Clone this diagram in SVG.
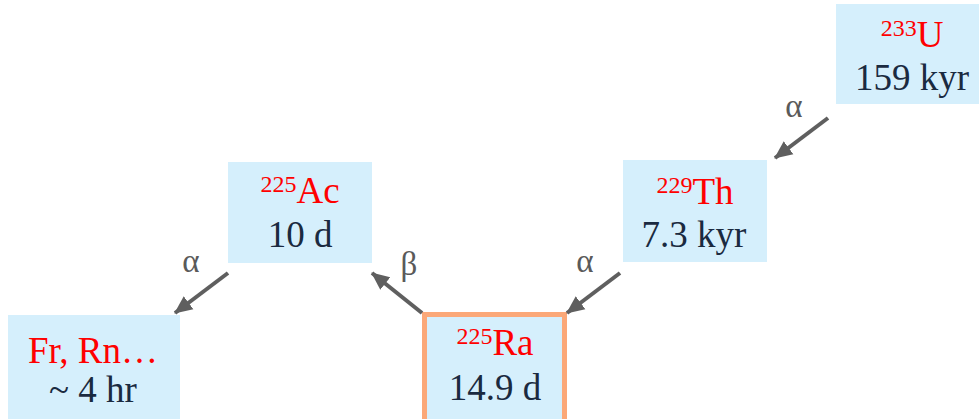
<svg xmlns="http://www.w3.org/2000/svg" width="979" height="419" viewBox="0 0 979 419">
<defs>
<style>
.box{fill:#d5effc}
.hl{fill:#d5effc;stroke:#fba878;stroke-width:5}
.iso{font-size:37px;fill:#ff0000;text-anchor:middle}
.sup{font-size:24px}
.hl2{font-size:37px;fill:#1a2a40;text-anchor:middle}
.lbl{font-size:33px;fill:#5a5a5a;text-anchor:middle}
.arr{stroke:#5f5f5f;stroke-width:4;fill:none;marker-end:url(#ah)}
</style>
<marker id="ah" markerUnits="userSpaceOnUse" markerWidth="20" markerHeight="18" refX="17" refY="8" orient="auto" viewBox="0 0 20 16">
<path d="M0,0 L18,8 L0,16 Z" fill="#5f5f5f"/>
</marker>
</defs>
<g font-family="Liberation Serif, DejaVu Serif, serif">
<g id="n-u233">
<rect class="box" x="836" y="4" width="150" height="100"/>
<text class="iso" x="912" y="47"><tspan class="sup" dy="-11">233</tspan><tspan dy="11">U</tspan></text>
<text class="hl2" x="912" y="90">159 kyr</text>
</g>
<g id="n-th229">
<rect class="box" x="623" y="160" width="144" height="102"/>
<text class="iso" x="695" y="204"><tspan class="sup" dy="-11">229</tspan><tspan dy="11">Th</tspan></text>
<text class="hl2" x="694" y="247">7.3 kyr</text>
</g>
<g id="n-ra225">
<rect class="hl" x="424.5" y="314.5" width="140" height="110"/>
<text class="iso" x="495" y="355"><tspan class="sup" dy="-11">225</tspan><tspan dy="11">Ra</tspan></text>
<text class="hl2" x="495" y="400">14.9 d</text>
</g>
<g id="n-ac225">
<rect class="box" x="228" y="162" width="144" height="101"/>
<text class="iso" x="300" y="203"><tspan class="sup" dy="-11">225</tspan><tspan dy="11">Ac</tspan></text>
<text class="hl2" x="300" y="247">10 d</text>
</g>
<g id="n-fr">
<rect class="box" x="8" y="315" width="172" height="110"/>
<text class="iso" x="93" y="363">Fr, Rn…</text>
<text class="hl2" x="93" y="402">~ 4 hr</text>
</g>
<g id="connectors">
<line class="arr" x1="828" y1="118" x2="775" y2="158"/>
<text class="lbl" x="794" y="117">α</text>
<line class="arr" x1="620" y1="273" x2="567" y2="313"/>
<text class="lbl" x="585" y="272">α</text>
<line class="arr" x1="422" y1="313" x2="372" y2="273"/>
<text class="lbl" x="409" y="275">β</text>
<line class="arr" x1="228" y1="273" x2="175" y2="313"/>
<text class="lbl" x="191" y="272">α</text>
</g>
</g>
</svg>
